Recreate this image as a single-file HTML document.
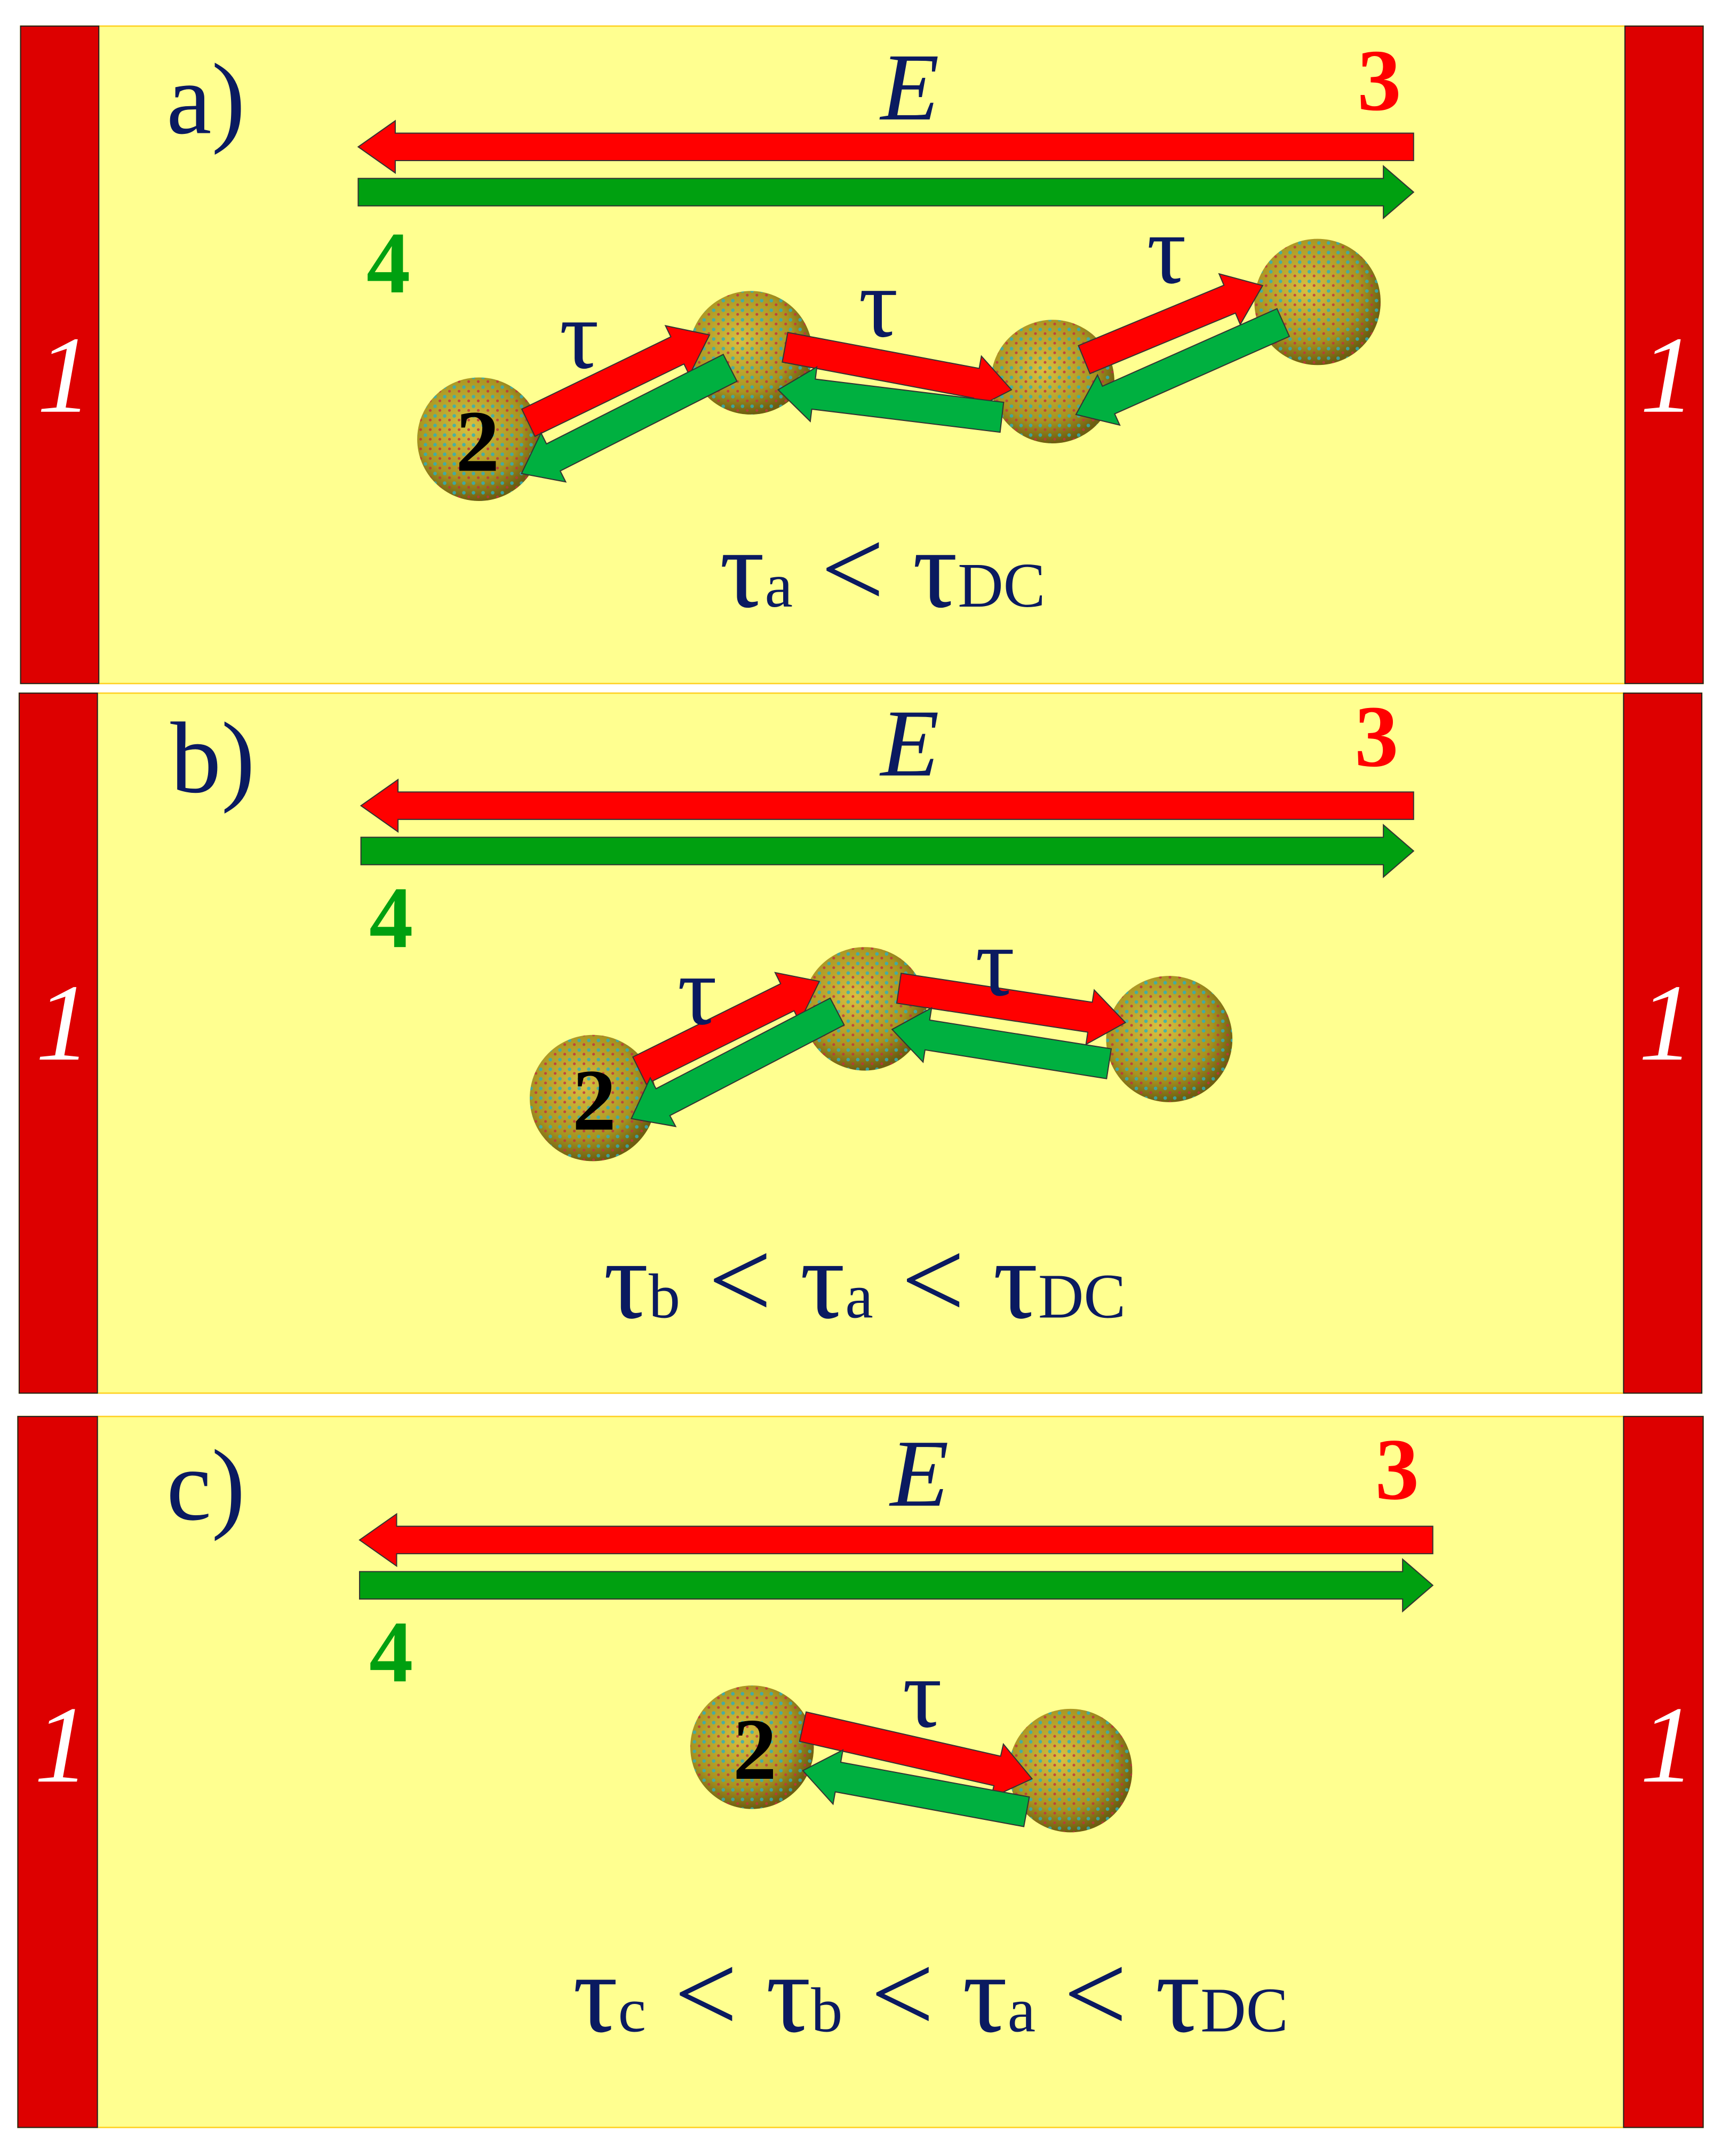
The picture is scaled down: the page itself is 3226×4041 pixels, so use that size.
<!DOCTYPE html>
<html><head><meta charset="utf-8"><style>
html,body{margin:0;padding:0;background:#fff;}
svg{display:block;}
text{font-family:"Liberation Serif",serif;}
</style></head><body>
<svg id="s" width="3226" height="4041" viewBox="0 0 1254 1570.8" preserveAspectRatio="none" xmlns="http://www.w3.org/2000/svg">
<defs>
<radialGradient id="sg" cx="0.42" cy="0.4" r="0.6">
<stop offset="0" stop-color="#d8c040"/><stop offset="0.7" stop-color="#a89420"/><stop offset="1" stop-color="#6e5e10"/>
</radialGradient>
<pattern id="dots" width="7" height="7" patternUnits="userSpaceOnUse">
<circle cx="2" cy="2" r="1.3" fill="#2ab0c0"/><circle cx="5.5" cy="5" r="1" fill="#c03040"/>
</pattern>
</defs>
<rect width="1254" height="1570.8" fill="#fff"/>
<g id="panels"></g>
</svg>
<script>
const NS="http://www.w3.org/2000/svg";
const G=document.getElementById('panels');
function el(t,a,txt){const e=document.createElementNS(NS,t);for(const k in a)e.setAttribute(k,a[k]);if(txt!==undefined)e.textContent=txt;G.appendChild(e);return e;}
function arrow(x1,y1,x2,y2,sw,hw,hl,fill){
 const dx=x2-x1,dy=y2-y1,L=Math.hypot(dx,dy),ux=dx/L,uy=dy/L,nx=-uy,ny=ux;
 const b=L-hl;
 const pts=[[0,-sw/2],[b,-sw/2],[b,-hw/2],[L,0],[b,hw/2],[b,sw/2],[0,sw/2]].map(([a,c])=>(x1+ux*a+nx*c).toFixed(1)+','+(y1+uy*a+ny*c).toFixed(1));
 el('polygon',{points:pts.join(' '),fill:fill,stroke:'#333',"stroke-width":0.8});
}
function sphere(cx,cy,r){el('circle',{cx,cy,r,fill:'url(#sg)'});el('circle',{cx,cy,r,fill:'url(#dots)',opacity:0.8});}
function T(x,y,s,str,o){const a=Object.assign({x,y,"font-size":s,fill:'#0a1a60'},o||{});return el('text',a,str);}
const RED='#ff0000',GRN='#00a010',GRN2='#00b040';
function panel(y0,y1,xl,xr,lw){
 el('rect',{x:xl,y:y0,width:xr-xl,height:y1-y0,fill:'#ffff90',stroke:'#ffd020','stroke-width':1});
 el('rect',{x:xl,y:y0,width:lw,height:y1-y0,fill:'#dd0000',stroke:'#222','stroke-width':0.8});
 el('rect',{x:xr-lw,y:y0,width:lw,height:y1-y0,fill:'#dd0000',stroke:'#222','stroke-width':0.8});
}
function ones(y,xl,xr){T(xl+12,y,80,'1',{fill:'#fff','font-style':'italic'});T(xr-46,y,80,'1',{fill:'#fff','font-style':'italic'});}
function mainArrows(yr,yg,x1,x2,ex,ey,tx,ty,fx,fy,lab,lx,ly){
 arrow(x2,yr,x1,yr,20,38,27,RED);
 arrow(x1,yg,x2,yg,20,38,22,GRN);
 T(ex,ey,70,'E',{'font-style':'italic','text-anchor':'middle'});
 T(tx,ty,64,'3',{fill:RED,'font-weight':'bold','text-anchor':'middle'});
 T(fx,fy,64,'4',{fill:GRN,'font-weight':'bold','text-anchor':'middle'});
 T(lx,ly,74,lab,{'text-anchor':'middle'});
}
function tau(x,y){T(x,y,72,'τ',{'text-anchor':'middle'});}
function two(x,y){T(x,y,64,'2',{fill:'#000','font-weight':'bold','text-anchor':'middle'});}
function pair(a,b){arrow(a[0],a[1],a[2],a[3],22,40,26,RED);arrow(b[0],b[1],b[2],b[3],22,40,26,GRN2);}
function formula(cx,y,parts){
 const t=T(cx,y,82,'',{'text-anchor':'middle'});
 parts.forEach(p=>{const s=document.createElementNS(NS,'tspan');s.setAttribute('font-size',p[1]?46:82);s.textContent=p[0];t.appendChild(s);});
}
// Panel a
panel(19,498,15,1241,57);ones(300,15,1241);
mainArrows(107,140,261,1030,663,87,1005,80,283,213,'a)',150,97);
sphere(349,320,45);sphere(547,257,45);sphere(767,278,45);sphere(960,220,46);
pair([385,308,517,244],[532,268,380,345]);
pair([572,253,737,284],[730,304,567,284]);
pair([790,262,920,208],[935,235,784,302]);
tau(422,268);tau(640,245);tau(850,206);two(348,343);
formula(643,442,[['τ',0],['a',1],[' < τ',0],['DC',1]]);
// Panel b
panel(505,1015,14,1240,57);ones(772,14,1240);
mainArrows(587,620,263,1030,663,565,1003,558,285,690,'b)',155,577);
sphere(432,800,46);sphere(630,735,45);sphere(852,757,46);
pair([466,780,597,715],[610,737,460,815]);
pair([655,720,820,745],[808,775,650,750]);
tau(508,746);tau(725,725);two(433,823);
formula(630,960,[['τ',0],['b',1],[' < τ',0],['a',1],[' < τ',0],['DC',1]]);
// Panel c
panel(1032,1550,13,1241,58);ones(1298,13,1241);
mainArrows(1122,1155,262,1044,670,1097,1018,1092,285,1225,'c)',150,1107);
sphere(548,1273,45);sphere(780,1290,45);
pair([585,1258,752,1296],[748,1320,585,1290]);
tau(672,1258);two(550,1296);
formula(678,1480,[['τ',0],['c',1],[' < τ',0],['b',1],[' < τ',0],['a',1],[' < τ',0],['DC',1]]);
</script>
</body></html>
